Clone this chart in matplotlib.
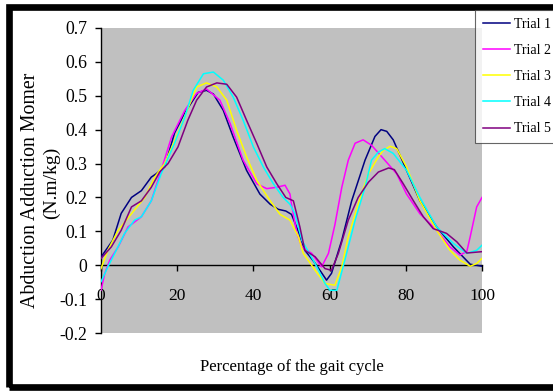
"""Hip abduction/adduction moment over the gait cycle, five trials."""

import matplotlib

matplotlib.use("Agg")
import matplotlib.pyplot as plt
from matplotlib.patches import Rectangle

plt.rcParams["font.family"] = ["Liberation Serif", "DejaVu Serif"]
plt.rcParams["axes.unicode_minus"] = False

W, H = 553, 391

trial_names = ["Trial 1", "Trial 2", "Trial 3", "Trial 4", "Trial 5"]
trial_colors = ["#000080", "#FF00FF", "#FFFF00", "#00FFFF", "#800080"]

x_t1 = [0, 3.1, 5.3, 8, 10.6, 13.2, 14.5, 16.7, 19.3, 22, 25.5, 27.7, 29.5, 32.1,
        34.7, 38.2, 41.7, 44.4, 46.5, 48.5, 50, 51.8, 53.5, 56.2, 59.2, 60.5,
        63.2, 65.8, 69.3, 71.9, 73.5, 75, 76.7, 80.2, 83.7, 88.1, 92.5, 96.9, 100]
y_t1 = [0.024, 0.074, 0.153, 0.2, 0.22, 0.26, 0.27, 0.29, 0.39, 0.45, 0.51, 0.516,
        0.505, 0.457, 0.378, 0.28, 0.21, 0.18, 0.165, 0.16, 0.15, 0.10, 0.044,
        0.006, -0.044, -0.024, 0.074, 0.19, 0.31, 0.38, 0.40, 0.395, 0.37, 0.28,
        0.19, 0.113, 0.054, 0.003, -0.003]

x_t2 = [0, 1, 2.3, 4.5, 7.1, 10.6, 13.2, 15.8, 18.5, 22, 25.1, 27.7, 31.2, 33.9,
        37.3, 40.9, 43.5, 46.1, 48.3, 49.6, 50, 51.4, 52.7, 55.3, 57.9, 59.7,
        61.4, 63.2, 64.9, 66.7, 68.8, 71, 73.7, 77.6, 80.2, 83.7, 88.1, 91.6,
        94.2, 96, 96.9, 98.6, 100]
y_t2 = [-0.074, -0.024, 0.015, 0.054, 0.113, 0.143, 0.19, 0.28, 0.378, 0.457,
        0.507, 0.52, 0.487, 0.418, 0.31, 0.24, 0.226, 0.23, 0.236, 0.21, 0.18,
        0.094, 0.054, 0.035, -0.005, 0.035, 0.12, 0.23, 0.31, 0.36, 0.37, 0.354,
        0.32, 0.27, 0.21, 0.152, 0.103, 0.054, 0.03, 0.04, 0.084, 0.172, 0.2]

x_t3 = [0, 1.8, 4.5, 8, 11.5, 14.1, 16.7, 20.2, 25.1, 27.7, 30.4, 33, 35.6, 38.2,
        40.9, 44.4, 47, 49.6, 51.8, 53.1, 56.2, 58.8, 61.4, 63.2, 64.9, 67.5,
        70.2, 72.8, 74.1, 75.9, 77.6, 80.2, 83.7, 88.1, 91.6, 94.2, 96.9, 98.6, 100]
y_t3 = [-0.01, 0.044, 0.103, 0.152, 0.2, 0.26, 0.30, 0.39, 0.526, 0.538, 0.526,
        0.487, 0.398, 0.32, 0.25, 0.19, 0.15, 0.133, 0.084, 0.035, -0.015, -0.054,
        -0.059, -0.005, 0.084, 0.18, 0.27, 0.32, 0.339, 0.351, 0.344, 0.29, 0.19,
        0.103, 0.044, 0.015, -0.003, 0.005, 0.02]

x_t4 = [0, 1.8, 3.6, 6.2, 8.8, 10.6, 13.2, 15.8, 19.3, 22, 24.2, 26.9, 29.5, 32.1,
        34.7, 37.3, 40, 42.6, 45.2, 47.8, 49.6, 50.9, 52.7, 56.2, 58.8, 60.1,
        61.9, 64, 66.7, 69.3, 71, 72.8, 74.5, 76.7, 80.2, 83.7, 88.1, 92.5, 96,
        98.6, 100]
y_t4 = [-0.049, -0.005, 0.035, 0.094, 0.133, 0.143, 0.19, 0.27, 0.36, 0.437,
        0.516, 0.565, 0.57, 0.546, 0.496, 0.428, 0.349, 0.29, 0.241, 0.2, 0.18,
        0.152, 0.074, 0.005, -0.054, -0.074, -0.074, 0.015, 0.133, 0.23, 0.31,
        0.334, 0.344, 0.33, 0.28, 0.2, 0.113, 0.064, 0.035, 0.044, 0.059]

x_t5 = [0, 2.7, 5.3, 8, 10.6, 13.2, 15.4, 17.6, 20.2, 22.8, 25.1, 27.7, 30.4, 33,
        35.6, 38.2, 40.9, 43.5, 46.1, 48.5, 50.5, 52.2, 53.5, 56.2, 58.8, 60.5,
        62.3, 64.9, 67.5, 70.2, 72.8, 75.5, 77, 79.3, 82, 84.6, 87.2, 90.7, 93.4,
        96, 100]
y_t5 = [0.02, 0.054, 0.103, 0.172, 0.19, 0.23, 0.275, 0.30, 0.349, 0.428, 0.487,
        0.526, 0.538, 0.534, 0.496, 0.428, 0.359, 0.29, 0.241, 0.2, 0.19, 0.113,
        0.044, 0.025, -0.01, -0.015, 0.035, 0.133, 0.2, 0.245, 0.275, 0.287, 0.282,
        0.241, 0.19, 0.143, 0.108, 0.094, 0.069, 0.036, 0.04]

x_ticks = [0, 20, 40, 60, 80, 100]
y_ticks = [0.7, 0.6, 0.5, 0.4, 0.3, 0.2, 0.1, 0, -0.1, -0.2]
y_tick_labels = ["0.7", "0.6", "0.5", "0.4", "0.3", "0.2", "0.1", "0", "-0.1", "-0.2"]


def px(x, y):
    # pixel position (from top-left) -> figure fraction
    return x / W, 1 - y / H


fig = plt.figure(figsize=(W / 100, H / 100), dpi=100)
fig.patch.set_facecolor("white")

# thick black outer frame, its right side runs off the picture
fig.add_artist(Rectangle(px(9, 387), 600 / W, 380.5 / H, transform=fig.transFigure,
                         fill=False, edgecolor="black", linewidth=4.8, zorder=0))

left, top = px(101, 28)
right, bottom = px(482, 333)
ax = fig.add_axes([left, bottom, right - left, top - bottom])
ax.set_facecolor("#C0C0C0")

series = [(x_t1, y_t1), (x_t2, y_t2), (x_t3, y_t3), (x_t4, y_t4), (x_t5, y_t5)]
for (xs, ys), name, color in zip(series, trial_names, trial_colors):
    ax.plot(xs, ys, color=color, linewidth=1.1, label=name, zorder=3)

ax.set_xlim(0, 100)
ax.set_ylim(-0.2, 0.7)

ax.spines["top"].set_visible(False)
ax.spines["right"].set_visible(False)
ax.spines["bottom"].set_position(("data", 0))
ax.spines["bottom"].set_linewidth(1.0)
ax.spines["left"].set_linewidth(1.0)

ax.set_xticks(x_ticks)
ax.set_xticklabels([str(t) for t in x_ticks])
ax.set_yticks(y_ticks)
ax.set_yticklabels(y_tick_labels)
ax.tick_params(axis="x", direction="out", length=4, width=1, pad=12.5, labelsize=12.5)
ax.tick_params(axis="y", direction="out", length=4.3, width=1, pad=5.5, labelsize=12.8)

# y label: two lines, the first one clipped in the original ("Momer")
fig.text(*px(35, 308), "Abduction Adduction Momer", rotation=90, rotation_mode="anchor",
         ha="left", va="baseline", fontsize=14.3)
fig.text(*px(55.7, 182.5), "(N.m/kg)", rotation=90, rotation_mode="anchor",
         ha="center", va="baseline", fontsize=14)

fig.text(*px(292, 367), "Percentage of the gait cycle", ha="center", va="center",
         fontsize=12)

leg = fig.legend(loc="upper left", bbox_to_anchor=px(475, 10), frameon=True,
                 fontsize=10, handlelength=1.95, handletextpad=0.3, labelspacing=0.95,
                 borderpad=0.55, borderaxespad=0, fancybox=False)
leg.get_frame().set_edgecolor("#404040")
leg.get_frame().set_linewidth(0.8)

fig.savefig("out.png", dpi=100)
